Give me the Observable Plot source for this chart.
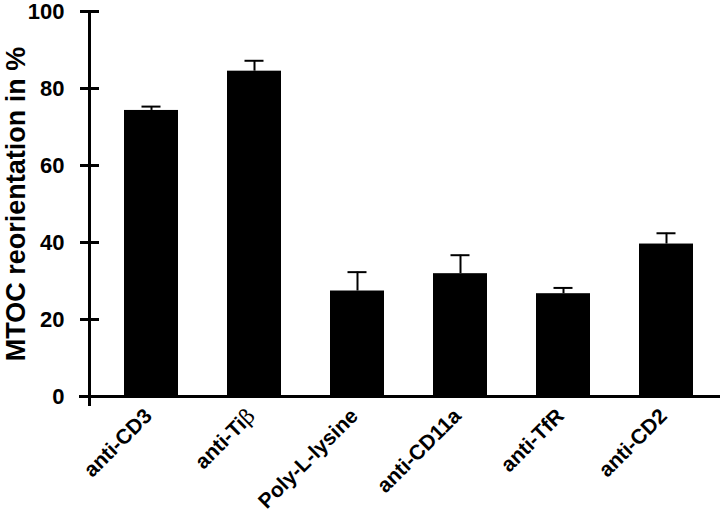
<!DOCTYPE html>
<html><head><meta charset="utf-8">
<script src="https://cdn.jsdelivr.net/npm/d3@7"></script>
<script src="https://cdn.jsdelivr.net/npm/@observablehq/plot@0.6"></script>
<style>body{margin:0;background:#fff} #chart{width:720px;height:524px}</style>
</head><body><div id="chart"></div>
<script>
const categories = ["anti-CD3","anti-Tiβ","Poly-L-lysine","anti-CD11a","anti-TfR","anti-CD2"];
const values = [74.3, 84.5, 27.4, 31.9, 26.7, 39.6];
const errors = [1.0, 2.7, 4.9, 4.8, 1.5, 2.8];
const yTicks = [0, 20, 40, 60, 80, 100];
const yLabel = "MTOC reorientation in %";

const data = categories.map((c, i) => ({category: c, value: values[i], top: values[i] + errors[i]}));
const font = "'Liberation Sans', Arial, Helvetica, sans-serif";

const plot = Plot.plot({
  width: 720, height: 524,
  marginLeft: 89, marginRight: 2, marginTop: 11, marginBottom: 128,
  style: {fontFamily: font, fontWeight: "bold", background: "#fff", color: "#000", overflow: "visible"},
  x: {domain: categories, paddingInner: 0.478, paddingOuter: 0.28, align: 0.586},
  y: {domain: [0, 100]},
  marks: [
    Plot.barY(data, {x: "category", y: "value", fill: "#000"}),
    Plot.ruleX(data, {x: "category", y1: "value", y2: "top", stroke: "#000", strokeWidth: 2}),
    Plot.tickY(data, {x: "category", y: "top", stroke: "#000", strokeWidth: 2, insetLeft: 17.5, insetRight: 17.5}),
    Plot.frame({anchor: "left", stroke: "#000", strokeWidth: 3, insetBottom: -8}),
    Plot.frame({anchor: "bottom", stroke: "#000", strokeWidth: 3, insetLeft: -9}),
    Plot.axisY({ticks: yTicks, tickSize: 9, tickPadding: 16, strokeWidth: 3, fontSize: 22, label: null}),
    Plot.axisY({ticks: yTicks, tickSize: 10, dx: 10, text: null, label: null, strokeWidth: 3}),
    Plot.axisY({ticks: yTicks, tickSize: 0, text: null, label: yLabel, labelAnchor: "center", labelArrow: "none", labelOffset: 84, fontSize: 27}),
    Plot.axisX({tickSize: 0, tickRotate: -45, tickPadding: 10, fontSize: 21, dx: -3, dy: 6, label: null})
  ]
});
document.getElementById("chart").appendChild(plot);

// render the Greek beta in a regular-weight symbol style, as in the original
plot.querySelectorAll("text").forEach(t => {
  if (t.textContent === "anti-Tiβ") {
    const tgt = t.querySelector("tspan") || t;
    tgt.textContent = "anti-Ti";
    const b = document.createElementNS("http://www.w3.org/2000/svg", "tspan");
    b.setAttribute("font-weight", "normal");
    b.setAttribute("font-family", "'DejaVu Serif', serif");
    b.textContent = "β";
    tgt.appendChild(b);
  }
});
</script>
</body></html>
